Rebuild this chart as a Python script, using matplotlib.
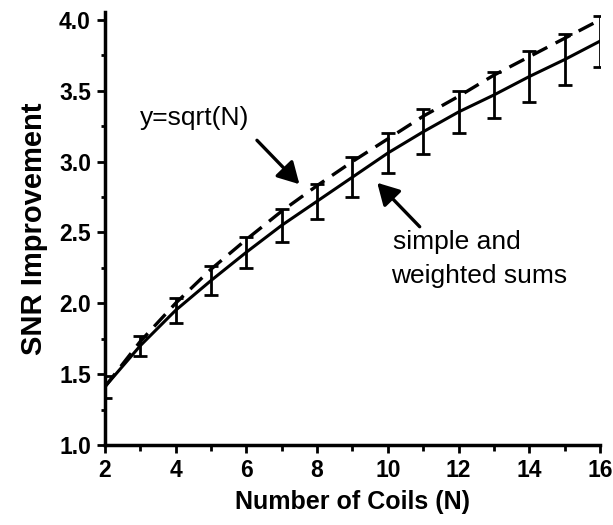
import matplotlib
matplotlib.use("Agg")
import matplotlib.pyplot as plt
from matplotlib.ticker import MultipleLocator

plt.rcParams['font.family'] = ['Liberation Sans', 'DejaVu Sans']

# Number of coils
coils = [2, 3, 4, 5, 6, 7, 8, 9, 10, 11, 12, 13, 14, 15, 16]
# measured SNR improvement (simple and weighted sums) and error bars
snr_sums = [1.41, 1.70, 1.95, 2.16, 2.36, 2.55, 2.72, 2.89, 3.06, 3.21,
            3.35, 3.47, 3.60, 3.72, 3.85]
snr_err = [0.08, 0.07, 0.09, 0.10, 0.11, 0.115, 0.125, 0.14, 0.14, 0.16,
           0.15, 0.165, 0.18, 0.18, 0.18]
# y = sqrt(N) reference values
snr_sqrt = [1.41, 1.73, 2.00, 2.24, 2.45, 2.65, 2.83, 3.00, 3.16, 3.32,
            3.46, 3.61, 3.74, 3.87, 4.00]

fig = plt.figure(figsize=(6.13, 5.25), dpi=100)
ax = fig.add_axes([0.171, 0.1524, 0.808, 0.8247])

ax.plot(coils, snr_sqrt, color='black', lw=2.4, linestyle=(0, (5, 2.8)))
ax.errorbar(coils, snr_sums, yerr=snr_err, color='black', lw=2.2,
            elinewidth=2.0, capsize=5, capthick=2.0)

ax.set_xlim(2, 16)
ax.set_ylim(1.0, 4.055)
ax.spines['top'].set_visible(False)
ax.spines['right'].set_visible(False)
ax.spines['left'].set_linewidth(2.5)
ax.spines['bottom'].set_linewidth(2.5)

ax.xaxis.set_major_locator(MultipleLocator(2))
ax.xaxis.set_minor_locator(MultipleLocator(1))
ax.yaxis.set_major_locator(MultipleLocator(0.5))
ax.yaxis.set_minor_locator(MultipleLocator(0.25))
ax.tick_params(axis='both', which='major', direction='out', length=6,
               width=2, labelsize=16.5, pad=4)
ax.tick_params(axis='x', which='minor', direction='out', length=4, width=2)
ax.tick_params(axis='y', which='minor', direction='out', length=3, width=2)
ax.set_xticks(range(2, 17, 2))
ax.set_xticklabels([str(v) for v in range(2, 17, 2)], fontweight='bold')
ax.set_yticks([1.0, 1.5, 2.0, 2.5, 3.0, 3.5, 4.0])
ax.set_yticklabels(['1.0', '1.5', '2.0', '2.5', '3.0', '3.5', '4.0'],
                   fontweight='bold')

ax.set_xlabel('Number of Coils (N)', fontsize=18, fontweight='bold', labelpad=6)
ax.set_ylabel('SNR Improvement', fontsize=21, fontweight='bold', labelpad=8)

arrow = dict(arrowstyle='-|>,head_length=0.5,head_width=0.28', color='black',
             lw=2.4, mutation_scale=26, shrinkA=0, shrinkB=0)
ax.text(3.0, 3.31, 'y=sqrt(N)', fontsize=19, va='center', ha='left')
ax.annotate('', xy=(7.5, 2.84), xytext=(6.3, 3.15), arrowprops=arrow)
ax.text(10.15, 2.43, 'simple and', fontsize=19, va='center', ha='left')
ax.text(10.08, 2.19, 'weighted sums', fontsize=19, va='center', ha='left')
ax.annotate('', xy=(9.7, 2.85), xytext=(10.9, 2.54), arrowprops=arrow)

fig.savefig('out.png', dpi=100)
